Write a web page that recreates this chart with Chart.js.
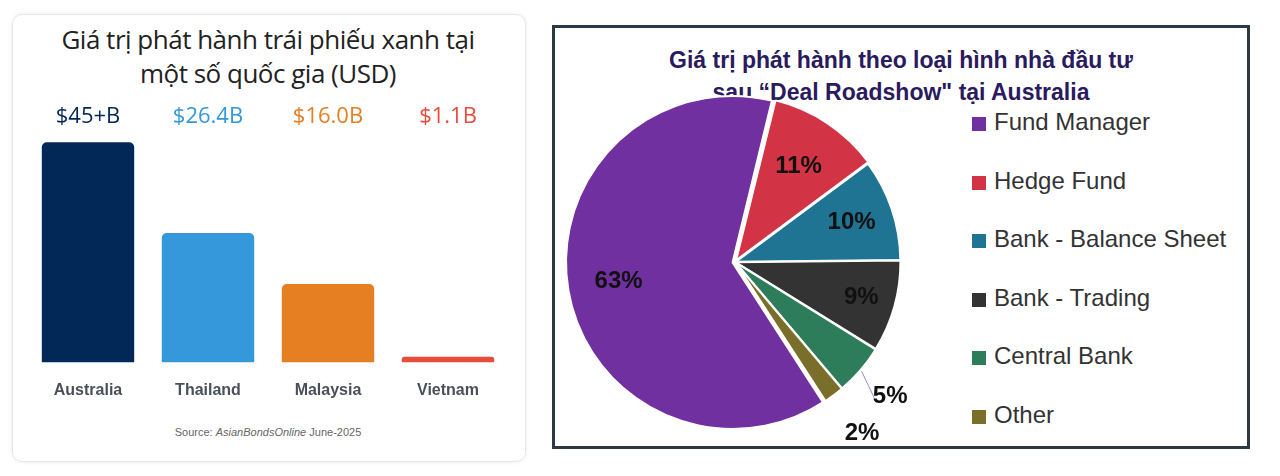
<!DOCTYPE html>
<html><head><meta charset="utf-8">
<script src="https://cdn.jsdelivr.net/npm/chart.js@4"></script>
<style>
body{margin:0;width:1280px;height:476px;background:#fff;position:relative;overflow:hidden;font-family:"Open Sans",sans-serif}
#card{position:absolute;left:12px;top:14px;width:512px;height:446px;border:1px solid #e6e6e6;border-radius:10px;box-shadow:0 0 4px rgba(0,0,0,.08)}
#t1{position:absolute;left:12px;width:512px;top:22px;text-align:center;font-size:26px;line-height:34px;color:#222;letter-spacing:-0.5px}
#src{position:absolute;left:12px;width:512px;top:426px;text-align:center;font-family:"Liberation Sans",Arial;font-size:11px;color:#666}
#box{position:absolute;left:552px;top:25px;width:692px;height:418px;border:3px solid #2d3a45}
#t2{position:absolute;left:552px;width:698px;top:44px;text-align:center;font-family:"Liberation Sans Narrow","Liberation Sans",sans-serif;font-weight:bold;font-size:23px;line-height:32px;color:#2a1a5e}
#leg{position:absolute;left:972px;top:108px;font-family:"Liberation Sans Narrow","Liberation Sans",sans-serif;font-size:24px;color:#333}
#leg div{height:58.5px;display:flex;align-items:flex-start}
#leg span{display:inline-block;width:14px;height:14px;margin:9px 8px 0 0}
canvas{position:absolute}
</style></head><body>
<div id="card"></div>
<div id="t1">Giá trị phát hành trái phiếu xanh tại<br>một số quốc gia (USD)</div>
<div id="src">Source: <i>AsianBondsOnline</i> June-2025</div>
<div id="box"></div>
<div id="t2">Giá trị phát hành theo loại hình nhà đầu tư<br>sau “Deal Roadshow" tại Australia</div>
<div id="leg"></div>
<canvas id="bar" style="left:28px;top:90px;width:480px;height:320px" width="480" height="320"></canvas>
<canvas id="pie" style="left:525px;top:72px;width:420px;height:380px" width="420" height="380"></canvas>
<script>
const countries=["Australia","Thailand","Malaysia","Vietnam"];
const bondValues=[45,26.4,16.0,1.1];
const valueLabels=["$45+B","$26.4B","$16.0B","$1.1B"];
const barColors=["#022858","#3498db","#e67e22","#e74c3c"];
const investorTypes=["Fund Manager","Hedge Fund","Bank - Balance Sheet","Bank - Trading","Central Bank","Other"];
const investorShares=[63,11,10,9,5,2];
const pieColors=["#7030a0","#d23445","#1f7393","#333333","#2e7d5a","#7a6f2a"];

const barPlugin={id:'bl',afterDatasetsDraw(c){const ctx=c.ctx,x=c.scales.x;ctx.save();ctx.textAlign='center';ctx.textBaseline='middle';
countries.forEach((n,i)=>{const px=x.getPixelForValue(i);ctx.font='22px "Open Sans"';ctx.fillStyle=barColors[i]==="#022858"?"#022858":barColors[i];ctx.fillText(valueLabels[i],px,27);
ctx.font='bold 16px "Liberation Sans",Arial';ctx.fillStyle='#4a4f5a';ctx.fillText(n,px,301);});ctx.restore();}};
new Chart(document.getElementById('bar'),{type:'bar',data:{labels:countries,datasets:[{data:bondValues,backgroundColor:barColors,barPercentage:0.77,categoryPercentage:1,borderRadius:{topLeft:5,topRight:5},borderSkipped:'bottom'}]},
options:{responsive:false,animation:false,layout:{padding:{top:40,bottom:42}},plugins:{legend:{display:false},tooltip:{enabled:false}},
scales:{x:{display:false},y:{display:false,min:-1.2,max:47.5}}},plugins:[barPlugin]});

const rf=[0.72,0.7,0.75,0.8,1.25,1.3];
const piePlugin={id:'pl',afterDatasetsDraw(c){const ctx=c.ctx;const meta=c.getDatasetMeta(0);ctx.save();ctx.font='bold 24px "Liberation Sans Narrow","Liberation Sans"';ctx.fillStyle='#111';ctx.textAlign='center';ctx.textBaseline='middle';
meta.data.forEach((a,i)=>{const m=(a.startAngle+a.endAngle)/2;const r=a.outerRadius*rf[i];const px=a.x+Math.cos(m)*r,py=a.y+Math.sin(m)*r;
if(i===4){ctx.strokeStyle='#9b8ac8';ctx.lineWidth=1;ctx.beginPath();ctx.moveTo(a.x+Math.cos(m)*a.outerRadius*1.02,a.y+Math.sin(m)*a.outerRadius*1.02);ctx.lineTo(px-14,py+6);ctx.stroke();}
ctx.fillText(investorShares[i]+'%',px,py);});ctx.restore();}};
new Chart(document.getElementById('pie'),{type:'pie',data:{labels:investorTypes,datasets:[{data:investorShares,backgroundColor:pieColors,borderColor:'#fff',borderWidth:2,offset:[10,8,4,4,4,4]}]},
options:{responsive:false,animation:false,rotation:147,layout:{padding:20},plugins:{legend:{display:false},tooltip:{enabled:false}}},plugins:[piePlugin]});

document.getElementById('leg').innerHTML=investorTypes.map((t,i)=>`<div><span style="background:${pieColors[i]}"></span>${t}</div>`).join('');
</script></body></html>
